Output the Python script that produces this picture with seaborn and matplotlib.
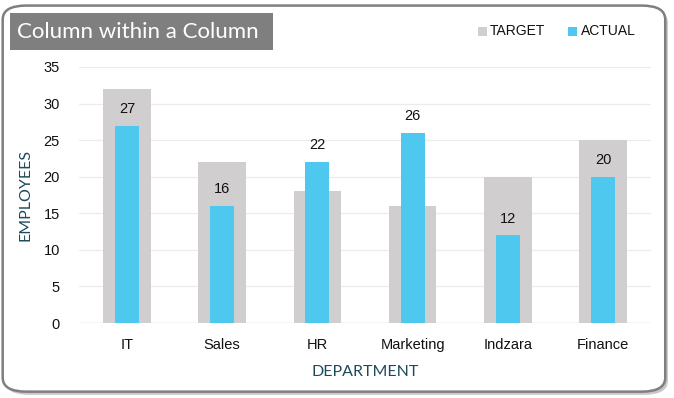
import matplotlib
matplotlib.use("Agg")
import matplotlib.pyplot as plt
import seaborn as sns
import pandas as pd
from matplotlib.patches import FancyBboxPatch, Rectangle

departments = ["IT", "Sales", "HR", "Marketing", "Indzara", "Finance"]
target = [32, 22, 18, 16, 20, 25]
actual = [27, 16, 22, 26, 12, 20]

data = pd.DataFrame({"Department": departments, "Target": target, "Actual": actual})

sns.set_style("white")
plt.rcParams["font.family"] = ["Liberation Sans", "DejaVu Sans"]

fig = plt.figure(figsize=(6.74, 3.98), dpi=100)

# rounded border with a soft shadow
fig.patches.append(FancyBboxPatch((0.008, 0.008), 0.983, 0.97, boxstyle="round,pad=0,rounding_size=0.035",
                                  transform=fig.transFigure, facecolor="#c8c8c8", edgecolor="none", zorder=0))
fig.patches.append(FancyBboxPatch((0.004, 0.016), 0.983, 0.97, boxstyle="round,pad=0,rounding_size=0.035",
                                  transform=fig.transFigure, facecolor="white", edgecolor="#7f7f7f",
                                  linewidth=1.8, zorder=0))

ax = fig.add_axes([0.1177, 0.1884, 0.8477, 0.6433])
ax.set_zorder(3)
ax.set_facecolor("none")

sns.barplot(data=data, x="Department", y="Target", color="#d0cece", width=0.5,
            saturation=1, linewidth=0, ax=ax, zorder=2)
sns.barplot(data=data, x="Department", y="Actual", color="#4ec8ee", width=0.25,
            saturation=1, linewidth=0, ax=ax, zorder=3)

ax.bar_label(ax.containers[1], fontsize=10.5, padding=7, color="#111111")

ax.set_xlim(-0.5, 5.5)
ax.set_ylim(0, 35)
ax.set_yticks(range(0, 36, 5))
ax.yaxis.grid(True, color="#ececec", linewidth=0.9, zorder=0)
ax.set_axisbelow(True)
for s in ax.spines.values():
    s.set_visible(False)
ax.axhline(0, color="#e0e0e0", linewidth=1, zorder=1)
ax.tick_params(axis="both", length=0, labelsize=10.5, colors="#111111")
ax.tick_params(axis="x", pad=11)
ax.tick_params(axis="y", pad=14)

ax.set_xlabel("DEPARTMENT", fontsize=11.5, color="#1d4a5a", labelpad=9, family="Lato")
ax.set_ylabel("EMPLOYEES", fontsize=11.5, color="#1d4a5a", labelpad=8, family="Lato")

# title box
fig.patches.append(Rectangle((10 / 674, 1 - 50 / 398), 263 / 674, 37 / 398, transform=fig.transFigure,
                             facecolor="#7f7f7f", edgecolor="none", zorder=1))
fig.text(17 / 674, 1 - 32 / 398, "Column within a Column", color="white", fontsize=16,
         va="center", ha="left", zorder=2, family="Lato")

# legend
fig.patches.append(Rectangle((478 / 674, 1 - 36 / 398), 9 / 674, 9 / 398, transform=fig.transFigure,
                             facecolor="#d0cece", edgecolor="none"))
fig.text(490 / 674, 1 - 31 / 398, "TARGET", fontsize=10, va="center", color="#111111")
fig.patches.append(Rectangle((568 / 674, 1 - 36 / 398), 9 / 674, 9 / 398, transform=fig.transFigure,
                             facecolor="#4ec8ee", edgecolor="none"))
fig.text(581 / 674, 1 - 31 / 398, "ACTUAL", fontsize=10, va="center", color="#111111")

fig.savefig("out.png", dpi=100)
